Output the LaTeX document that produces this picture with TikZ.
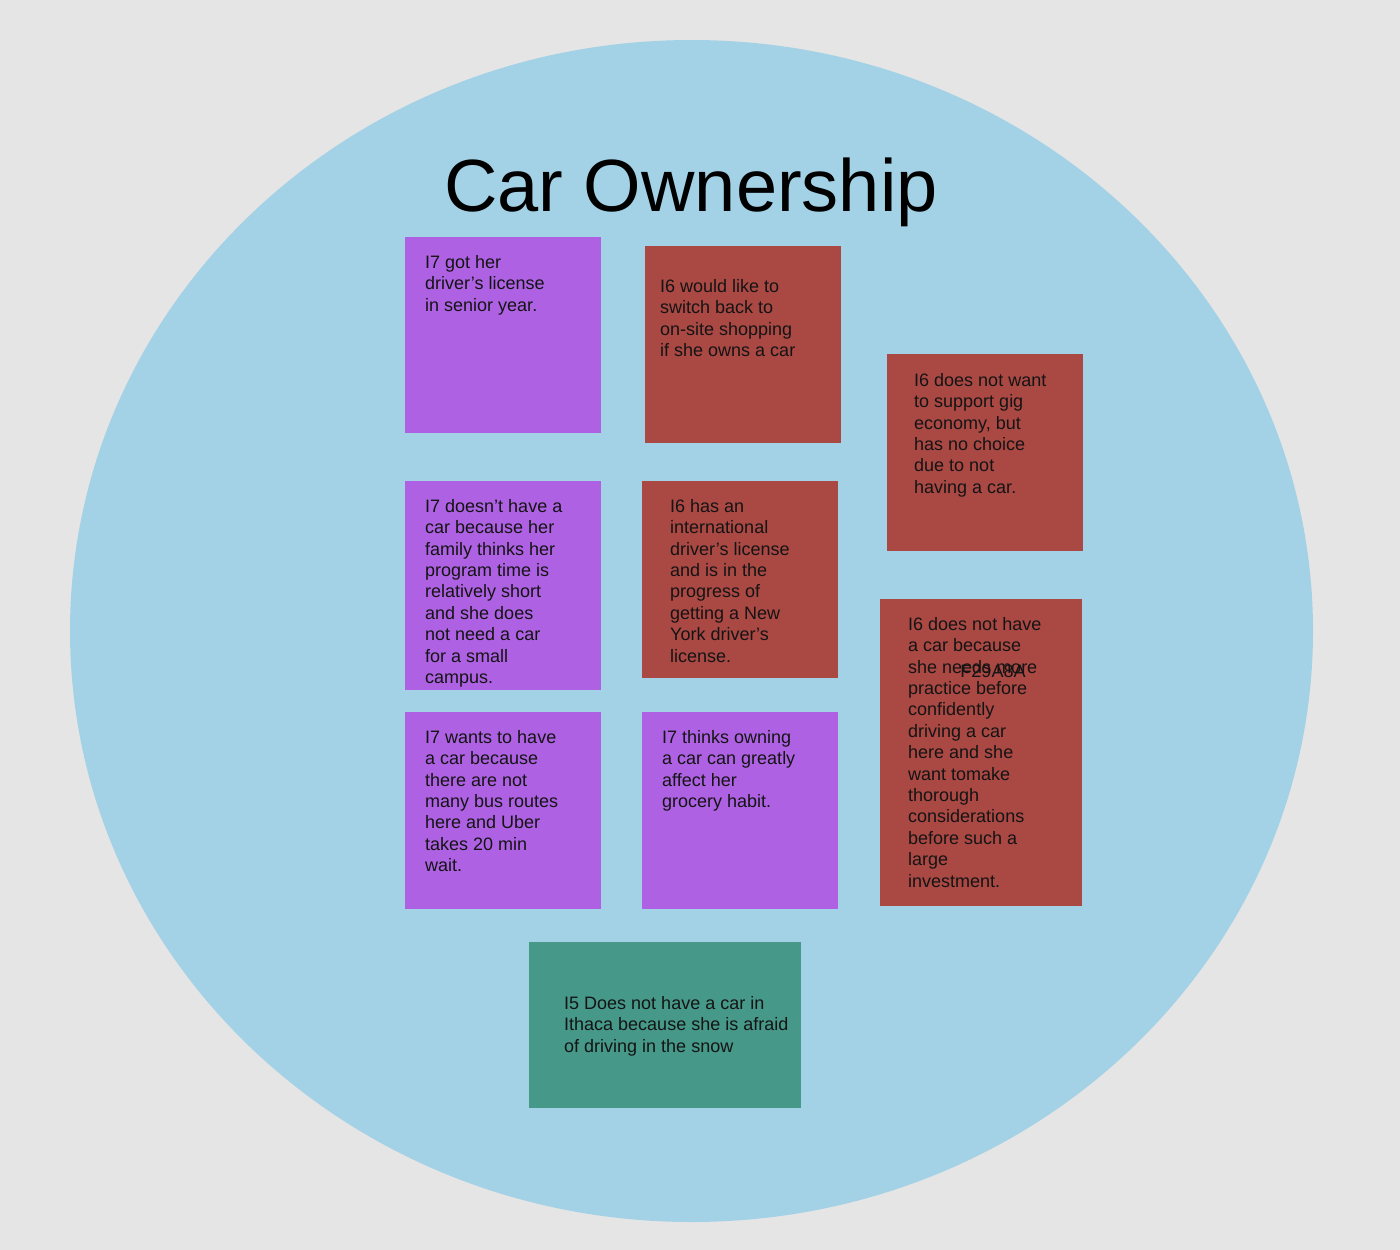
\documentclass[tikz,border=0pt]{standalone}
\usepackage{fontspec}
\usetikzlibrary{shapes.geometric}
\setmainfont{Liberation Sans}
\definecolor{canvas}{HTML}{E5E5E5}
\definecolor{pool}{HTML}{A3D2E6}
\definecolor{violetnote}{HTML}{AE62E3}
\definecolor{rednote}{HTML}{AA4844}
\definecolor{tealnote}{HTML}{469889}
\definecolor{ink}{HTML}{141414}
\begin{document}
\begin{tikzpicture}[x=1pt,y=-1pt,
  note/.style={rectangle, inner sep=0pt, outer sep=0pt, anchor=north west},
  violetbox/.style={note, fill=violetnote},
  redbox/.style={note, fill=rednote},
  tealbox/.style={note, fill=tealnote},
  notetext/.style={anchor=north west, inner sep=0pt, align=left, text=ink,
    font=\fontsize{18}{21.4}\selectfont}]
% page and the big circle
\fill[canvas] (0,0) rectangle (1400,1250);
\useasboundingbox (0,0) rectangle (1400,1250);
\node[ellipse, fill=pool, minimum width=1243pt, minimum height=1182pt, inner sep=0pt] (pool) at (691.5,631) {};
\node[anchor=base, inner sep=0pt, text=black, font=\fontsize{74}{80}\selectfont] (title) at (691,211) {Car Ownership};

% sticky notes
\node[violetbox, minimum width=196pt, minimum height=196pt] (n1) at (405,237) {};
\node[notetext] (t1) at (425,255) {I7 got her\\driver’s license\\in senior year.};

\node[redbox, minimum width=196pt, minimum height=197pt] (n2) at (645,246) {};
\node[notetext] (t2) at (660,279) {I6 would like to\\switch back to\\on-site shopping\\if she owns a car};

\node[redbox, minimum width=196pt, minimum height=197pt] (n3) at (887,354) {};
\node[notetext] (t3) at (914,373) {I6 does not want\\to support gig\\economy, but\\has no choice\\due to not\\having a car.};

\node[violetbox, minimum width=196pt, minimum height=209pt] (n4) at (405,481) {};
\node[notetext] (t4) at (425,499) {I7 doesn’t have a\\car because her\\family thinks her\\program time is\\relatively short\\and she does\\not need a car\\for a small\\campus.};

\node[redbox, minimum width=196pt, minimum height=197pt] (n5) at (642,481) {};
\node[notetext] (t5) at (670,499) {I6 has an\\international\\driver’s license\\and is in the\\progress of\\getting a New\\York driver’s\\license.};

\node[redbox, minimum width=202pt, minimum height=307pt] (n6) at (880,599) {};
\node[notetext] (t6) at (908,617) {I6 does not have\\a car because\\she needs more\\practice before\\confidently\\driving a car\\here and she\\want tomake\\thorough\\considerations\\before such a\\large\\investment.};
\node[anchor=north, inner sep=0pt, text=ink, font=\fontsize{18}{21.4}\selectfont] (code) at (993,665) {F29A8A};

\node[violetbox, minimum width=196pt, minimum height=197pt] (n7) at (405,712) {};
\node[notetext] (t7) at (425,730) {I7 wants to have\\a car because\\there are not\\many bus routes\\here and Uber\\takes 20 min\\wait.};

\node[violetbox, minimum width=196pt, minimum height=197pt] (n8) at (642,712) {};
\node[notetext] (t8) at (662,730) {I7 thinks owning\\a car can greatly\\affect her\\grocery habit.};

\node[tealbox, minimum width=272pt, minimum height=166pt] (n9) at (529,942) {};
\node[notetext] (t9) at (564,996) {I5 Does not have a car in\\Ithaca because she is afraid\\of driving in the snow};
\end{tikzpicture}
\end{document}
